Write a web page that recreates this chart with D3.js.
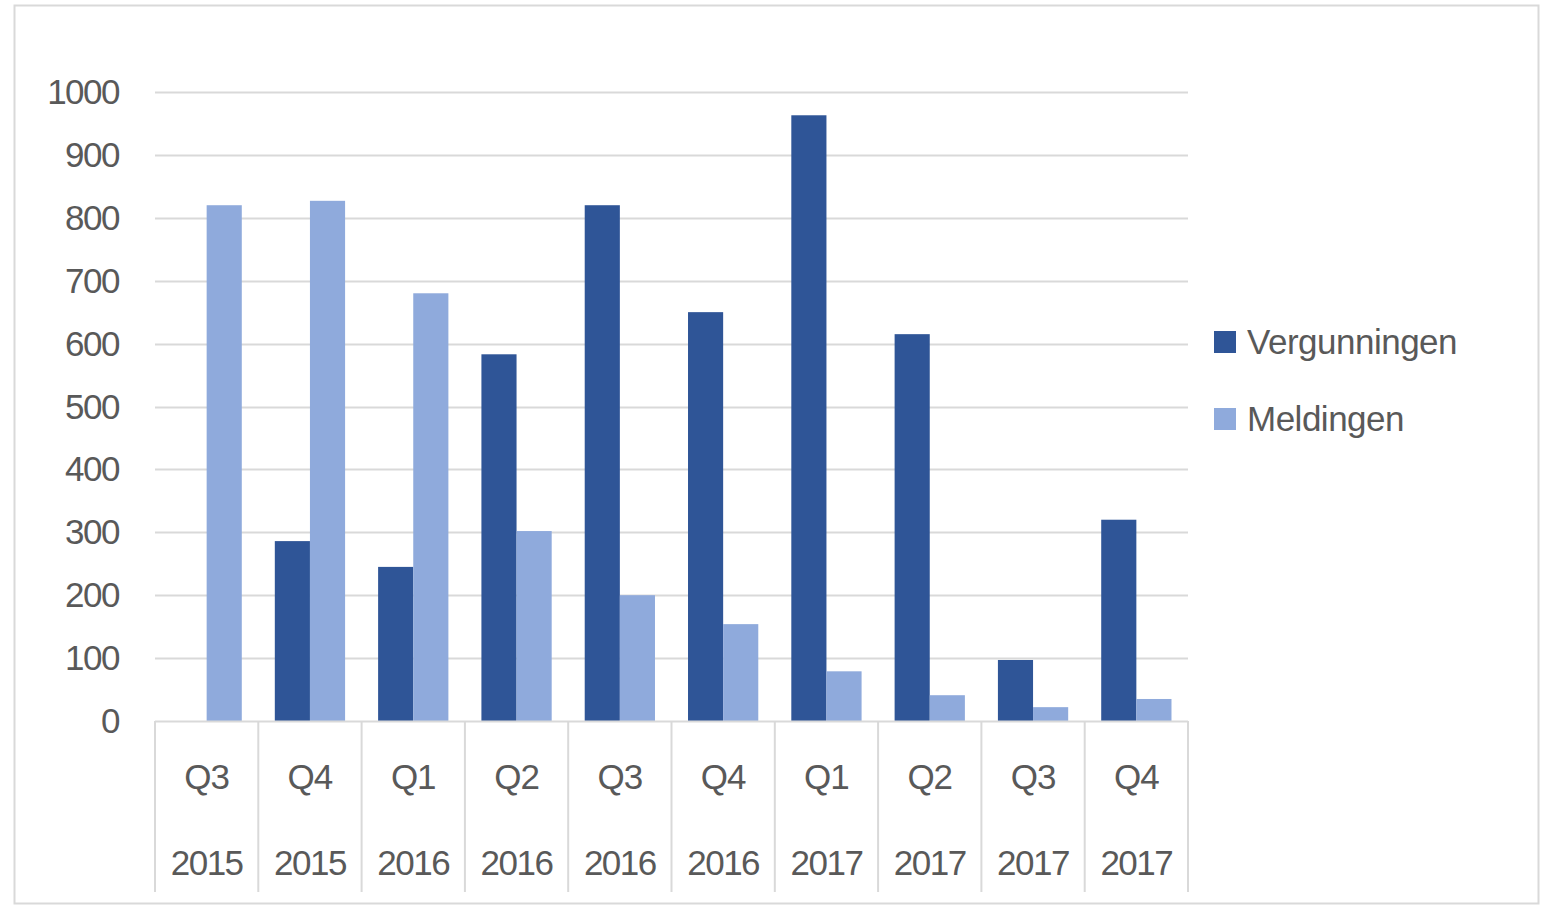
<!DOCTYPE html>
<html>
<head>
<meta charset="utf-8">
<script src="https://cdn.jsdelivr.net/npm/d3@7"></script>
<style>
  body { margin: 0; background: #fff; }
  text { font-family: "Liberation Sans", Arial, sans-serif; fill: #595959; }
</style>
</head>
<body>
<svg></svg>
<script>
// Chart data
const quarters = ["Q3", "Q4", "Q1", "Q2", "Q3", "Q4", "Q1", "Q2", "Q3", "Q4"];
const years = ["2015", "2015", "2016", "2016", "2016", "2016", "2017", "2017", "2017", "2017"];
const vergunningen = [0, 286, 245, 583, 820, 650, 963, 615, 97, 320];
const meldingen = [820, 827, 680, 302, 200, 154, 79, 41, 22, 35];
const seriesNames = ["Vergunningen", "Meldingen"];
const yTicks = [0, 100, 200, 300, 400, 500, 600, 700, 800, 900, 1000];

const width = 1544;
const height = 909;
const colors = ["#2F5597", "#8FAADC"];

const svg = d3.select("svg").attr("width", width).attr("height", height);

// outer chart border
svg.append("rect")
  .attr("x", 14.5).attr("y", 5.5)
  .attr("width", 1524).attr("height", 898)
  .attr("fill", "#fff")
  .attr("stroke", "#d9d9d9")
  .attr("stroke-width", 2);

const plot = { left: 155, right: 1188, top: 92, bottom: 721 };

const x = d3.scaleBand()
  .domain(d3.range(quarters.length))
  .range([plot.left, plot.right])
  .paddingInner(0)
  .paddingOuter(0);

// two bars per category, gap between the groups
const xInner = d3.scaleBand()
  .domain(seriesNames)
  .range([0, x.bandwidth()])
  .paddingInner(0)
  .paddingOuter(0.47);

const y = d3.scaleLinear().domain([0, 1000]).range([plot.bottom, plot.top]);

// gridlines
svg.append("g")
  .selectAll("line")
  .data(yTicks.slice(1))
  .enter()
  .append("line")
  .attr("x1", plot.left)
  .attr("x2", plot.right)
  .attr("y1", (d) => Math.round(y(d)) + 0.5)
  .attr("y2", (d) => Math.round(y(d)) + 0.5)
  .attr("stroke", "#d9d9d9")
  .attr("stroke-width", 2);

// y tick labels
svg.append("g")
  .selectAll("text")
  .data(yTicks)
  .enter()
  .append("text")
  .attr("x", 119)
  .attr("y", (d) => y(d) + 12)
  .attr("text-anchor", "end")
  .style("font-size", "35px")
  .style("letter-spacing", "-1.5px")
  .text((d) => d);

// bars
const table = quarters.map((q, i) => ({ i, values: [vergunningen[i], meldingen[i]] }));
const groups = svg.append("g")
  .selectAll("g")
  .data(table)
  .enter()
  .append("g")
  .attr("transform", (d) => `translate(${x(d.i)},0)`);

groups.selectAll("rect")
  .data((d) => d.values.map((v, k) => ({ key: seriesNames[k], value: v, k })))
  .enter()
  .append("rect")
  .attr("x", (d) => xInner(d.key))
  .attr("width", xInner.bandwidth())
  .attr("y", (d) => y(d.value))
  .attr("height", (d) => y(0) - y(d.value))
  .attr("fill", (d) => colors[d.k]);

// category axis: baseline and separators
svg.append("line")
  .attr("x1", plot.left).attr("x2", plot.right)
  .attr("y1", plot.bottom + 0.5).attr("y2", plot.bottom + 0.5)
  .attr("stroke", "#d9d9d9").attr("stroke-width", 2);

svg.append("g")
  .selectAll("line")
  .data(d3.range(quarters.length + 1))
  .enter()
  .append("line")
  .attr("x1", (d) => plot.left + d * x.step())
  .attr("x2", (d) => plot.left + d * x.step())
  .attr("y1", plot.bottom)
  .attr("y2", 892)
  .attr("stroke", "#d9d9d9")
  .attr("stroke-width", 2);

svg.append("g")
  .selectAll("text")
  .data(quarters)
  .enter()
  .append("text")
  .attr("x", (d, i) => x(i) + x.bandwidth() / 2)
  .attr("y", 789)
  .attr("text-anchor", "middle")
  .style("font-size", "35px")
  .style("letter-spacing", "-1px")
  .text((d) => d);

svg.append("g")
  .selectAll("text")
  .data(years)
  .enter()
  .append("text")
  .attr("x", (d, i) => x(i) + x.bandwidth() / 2)
  .attr("y", 875)
  .attr("text-anchor", "middle")
  .style("font-size", "35px")
  .style("letter-spacing", "-1.5px")
  .text((d) => d);

// legend
const legend = svg.append("g")
  .selectAll("g")
  .data(seriesNames)
  .enter()
  .append("g")
  .attr("transform", (d, i) => `translate(1214,${331 + i * 77})`);

legend.append("rect")
  .attr("width", 22)
  .attr("height", 22)
  .attr("fill", (d, i) => colors[i]);

legend.append("text")
  .attr("x", 33)
  .attr("y", 23)
  .style("font-size", "35px")
  .style("letter-spacing", "-0.5px")
  .text((d) => d);
</script>
</body>
</html>
